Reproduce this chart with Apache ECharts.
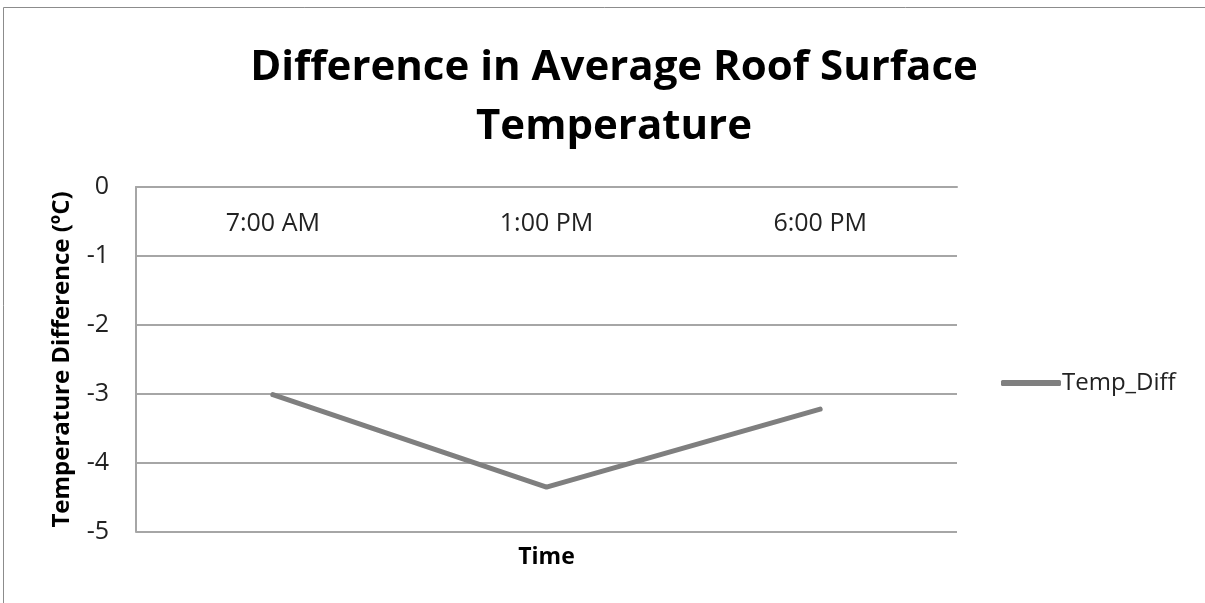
<!DOCTYPE html>
<html><head><meta charset="utf-8">
<script src="https://cdn.jsdelivr.net/npm/echarts@6/dist/echarts.min.js"></script>
<style>html,body{margin:0;padding:0;background:#fff}#c{width:1205px;height:603px}</style>
</head><body><div id="c"></div>
<script>
const categories = ['7:00 AM', '1:00 PM', '6:00 PM'];
const tempDiff = [-3.01, -4.35, -3.22];
const seriesName = 'Temp_Diff';
const titleText = 'Difference in Average Roof Surface\nTemperature';
const yName = 'Temperature Difference (ºC)';
const xName = 'Time';

const chart = echarts.init(document.getElementById('c'), null, {renderer: 'canvas'});
const F = "'Open Sans', 'Noto Sans', sans-serif";
chart.setOption({
  animation: false,
  backgroundColor: '#fff',
  graphic: [{type: 'rect', shape: {x: 3.5, y: 7.5, width: 1300, height: 700}, style: {fill: 'none', stroke: '#8c8c8c', lineWidth: 1}, silent: true}],
  title: {
    text: titleText, left: 609, top: 34, textAlign: 'center',
    textStyle: {fontFamily: F, fontWeight: 'bold', fontSize: 42, lineHeight: 59, color: '#000'}
  },
  legend: {
    data: [{name: seriesName, icon: 'roundRect'}], left: 996, top: 366,
    itemWidth: 60, itemHeight: 6, itemGap: 4,
    textStyle: {fontFamily: F, fontSize: 24, color: '#222', padding: [0,0,0,-4]}
  },
  grid: {left: 136, right: 248, top: 187, bottom: 71, containLabel: false},
  xAxis: [{
    type: 'category', data: categories, position: 'top', boundaryGap: true,
    axisLine: {show: true, lineStyle: {color: '#a6a6a6', width: 2}},
    axisTick: {show: false},
    axisLabel: {inside: true, margin: 24, fontFamily: F, fontSize: 25, color: '#222'}
  }, {
    type: 'category', data: categories, position: 'bottom',
    axisLine: {show: false}, axisTick: {show: false}, axisLabel: {show: false},
    name: xName, nameLocation: 'middle', nameGap: 14,
    nameTextStyle: {fontFamily: F, fontWeight: 'bold', fontSize: 23, color: '#000'}
  }],
  yAxis: {
    type: 'value', min: -5, max: 0, interval: 1,
    axisLine: {show: true, lineStyle: {color: '#a6a6a6', width: 2}},
    axisTick: {show: false},
    splitLine: {show: true, lineStyle: {color: '#a6a6a6', width: 2}},
    axisLabel: {margin: 27, fontFamily: F, fontSize: 25, color: '#222'},
    name: yName, nameLocation: 'middle', nameGap: 62, nameRotate: 90,
    nameTextStyle: {fontFamily: F, fontWeight: 'bold', fontSize: 24, color: '#000'}
  },
  series: [{
    name: seriesName, type: 'line', data: tempDiff, xAxisIndex: 0,
    symbol: 'none', lineStyle: {color: '#7f7f7f', width: 5, cap: 'round'},
    itemStyle: {color: '#7f7f7f'}
  }]
});
</script></body></html>
